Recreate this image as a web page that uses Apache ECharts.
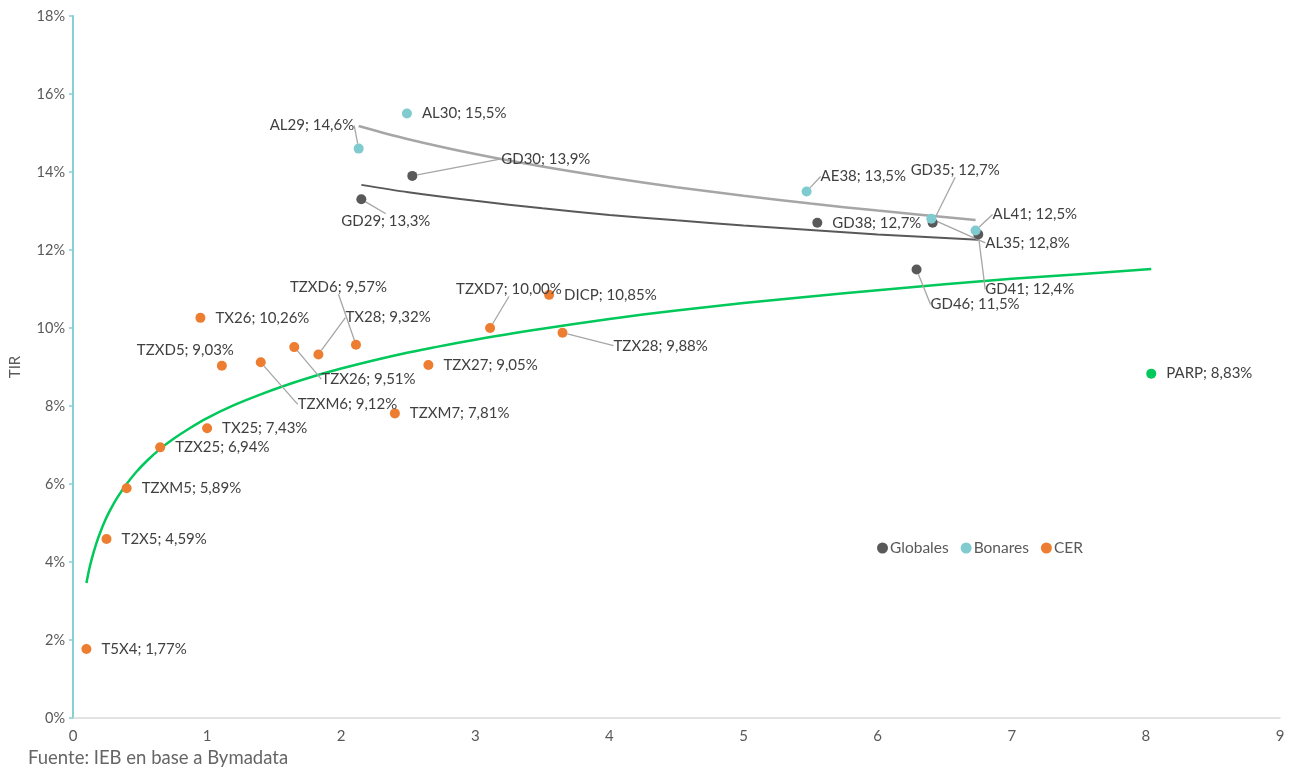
<!DOCTYPE html>
<html>
<head>
  <meta charset="utf-8">
  <title>TIR vs duration</title>
  <style type="text/css">
    html, body { margin: 0; padding: 0; background: #fff; }
    #main { width: 1294px; height: 769px; }
  </style>
</head>
<body>
<div id="main"></div>
<script type="text/javascript" src="https://cdn.jsdelivr.net/npm/echarts@6/dist/echarts.min.js"></script>
<script type="text/javascript">
  // bond names, duration (x) and TIR % (y)
  var globalesNames = ['GD29', 'GD30', 'GD38', 'GD35', 'GD41', 'GD46'];
  var globalesX     = [2.15, 2.53, 5.55, 6.41, 6.75, 6.29];
  var globalesY     = [13.3, 13.9, 12.7, 12.7, 12.4, 11.5];

  var bonaresNames = ['AL30', 'AL29', 'AE38', 'AL35', 'AL41'];
  var bonaresX     = [2.49, 2.13, 5.47, 6.40, 6.73];
  var bonaresY     = [15.5, 14.6, 13.5, 12.8, 12.5];

  var cerNames = ['T5X4', 'T2X5', 'TZXM5', 'TZX25', 'TX25', 'TZXD5', 'TX26', 'TZXM6',
                  'TZX26', 'TX28', 'TZXD6', 'TZX27', 'TZXM7', 'TZXD7', 'DICP', 'TZX28'];
  var cerX     = [0.10, 0.25, 0.40, 0.65, 1.00, 1.11, 0.95, 1.40,
                  1.65, 1.83, 2.11, 2.65, 2.40, 3.11, 3.55, 3.65];
  var cerY     = [1.77, 4.59, 5.89, 6.94, 7.43, 9.03, 10.26, 9.12,
                  9.51, 9.32, 9.57, 9.05, 7.81, 10.00, 10.85, 9.88];

  var parpNames = ['PARP'];
  var parpX     = [8.04];
  var parpY     = [8.83];

  // trend lines, points
  var cerTrendX = [0.1, 0.12, 0.14, 0.17, 0.2, 0.24, 0.28, 0.33, 0.4, 0.47, 0.55, 0.65, 0.75, 0.87, 1,
                   1.2, 1.4, 1.7, 2, 2.5, 3, 3.5, 4, 4.5, 5, 5.5, 6, 6.5, 7, 7.5, 8.04];
  var cerTrendY = [3.46, 3.80, 4.08, 4.43, 4.73, 5.07, 5.35, 5.65, 6.00, 6.30, 6.59, 6.90, 7.16, 7.43, 7.69,
                   8.02, 8.30, 8.66, 8.96, 9.37, 9.70, 9.98, 10.23, 10.45, 10.64, 10.81, 10.97, 11.12, 11.26, 11.38, 11.51];

  var bonTrendX = [2.13, 2.5, 3, 3.5, 4, 4.5, 5, 5.5, 6, 6.73];
  var bonTrendY = [15.18, 14.84, 14.46, 14.14, 13.86, 13.61, 13.39, 13.19, 13.01, 12.77];

  var globTrendX = [2.15, 2.5, 3, 3.5, 4, 4.5, 5, 5.5, 6, 6.75];
  var globTrendY = [13.67, 13.48, 13.26, 13.07, 12.90, 12.76, 12.63, 12.51, 12.40, 12.26];

  // label placement: offset of the label's left/middle from the dot (px)
  var labelOffsets = {
    GD29: [-20, 22], GD30: [89, -17], GD35: [-22, -53], GD41: [7, 55], GD46: [14, 35],
    AL29: [-89, -23], AE38: [14, -15], AL35: [54, 24], AL41: [17, -16],
    TZXD5: [-85, -16], TZXM6: [37, 42], TZX26: [27, 32], TX28: [27, -37],
    TZXD6: [-66, -58], TZXD7: [-34, -39], TZX28: [51, 13]
  };
  var withLeader = ['GD29', 'GD30', 'GD35', 'GD41', 'GD46', 'AL29', 'AE38', 'AL35', 'AL41',
                    'TZXM6', 'TZX26', 'TX28', 'TZXD6', 'TZXD7', 'TZX28'];

  var FONT = 'Lato';

  function points(names, xs, ys, decimals) {
    return names.map(function (n, i) {
      return {
        name: n,
        value: [xs[i], ys[i]],
        dec: decimals,
        labelLine: { show: withLeader.indexOf(n) >= 0 }
      };
    });
  }

  function pairs(xs, ys) {
    return xs.map(function (x, i) { return [x, ys[i]]; });
  }

  function bondSeries(name, color, data) {
    return {
      name: name,
      type: 'scatter',
      symbol: 'circle',
      symbolSize: 10,
      itemStyle: { color: color, opacity: 1 },
      data: data,
      z: 5,
      label: {
        show: true,
        position: 'right',
        distance: 10,
        color: '#404040',
        fontFamily: FONT,
        fontSize: 15,
        formatter: function (p) {
          return p.name + '; ' + p.value[1].toFixed(p.data.dec).replace('.', ',') + '%';
        }
      },
      labelLine: {
        show: false,
        lineStyle: { color: '#a6a6a6', width: 1.3 }
      },
      labelLayout: function (p) {
        var off = labelOffsets[p.text.split(';')[0]];
        if (!off) return {};
        var cx = p.rect.x + p.rect.width / 2;
        var cy = p.rect.y + p.rect.height / 2;
        return { x: cx + off[0], y: cy + off[1], align: 'left', verticalAlign: 'middle' };
      }
    };
  }

  function trendSeries(color, width, data) {
    return {
      type: 'line',
      smooth: 0.3,
      showSymbol: false,
      silent: true,
      lineStyle: { color: color, width: width },
      data: data,
      z: 3
    };
  }

  var myChart = echarts.init(document.getElementById('main'));

  var option = {
    animation: false,
    backgroundColor: '#ffffff',
    textStyle: { fontFamily: FONT },
    title: {
      text: 'Fuente: IEB en base a Bymadata',
      left: 28,
      top: 749,
      padding: 0,
      textStyle: { fontFamily: FONT, fontSize: 18.5, fontWeight: 'normal', color: '#666666' }
    },
    legend: {
      data: ['Globales', 'Bonares', 'CER'],
      left: 872,
      top: 535,
      icon: 'circle',
      itemWidth: 11,
      itemHeight: 11,
      itemGap: 12,
      textStyle: { fontFamily: FONT, fontSize: 15.5, color: '#595959', padding: [0, 0, 0, -3] }
    },
    grid: { left: 70, right: 14, top: 16, bottom: 51 },
    xAxis: {
      type: 'value',
      min: 0,
      max: 9,
      interval: 1,
      splitLine: { show: false },
      axisLine: { lineStyle: { color: '#d9d9d9', width: 1.5 } },
      axisTick: { show: false },
      axisLabel: { color: '#595959', fontSize: 15, fontFamily: FONT, margin: 11 }
    },
    yAxis: {
      type: 'value',
      name: 'TIR',
      nameLocation: 'middle',
      nameGap: 50,
      nameTextStyle: { color: '#595959', fontSize: 15, fontFamily: FONT },
      min: 0,
      max: 18,
      interval: 2,
      splitLine: { show: false },
      axisLine: { show: true, lineStyle: { color: '#86cfd3', width: 2 } },
      axisTick: { show: true, length: 4, lineStyle: { color: '#86cfd3', width: 1.5 } },
      axisLabel: { color: '#595959', fontSize: 14.5, fontFamily: FONT, margin: 8, formatter: '{value}%' }
    },
    series: [
      trendSeries('#00c85a', 2.5, pairs(cerTrendX, cerTrendY)),
      trendSeries('#a6a6a6', 2.5, pairs(bonTrendX, bonTrendY)),
      trendSeries('#595959', 2, pairs(globTrendX, globTrendY)),
      bondSeries('Globales', '#595959', points(globalesNames, globalesX, globalesY, 1)),
      bondSeries('Bonares', '#7fcbcf', points(bonaresNames, bonaresX, bonaresY, 1)),
      bondSeries('CER', '#ed7d31', points(cerNames, cerX, cerY, 2)),
      bondSeries('PARP', '#00c85a', points(parpNames, parpX, parpY, 2))
    ]
  };

  myChart.setOption(option);
</script>
</body>
</html>
